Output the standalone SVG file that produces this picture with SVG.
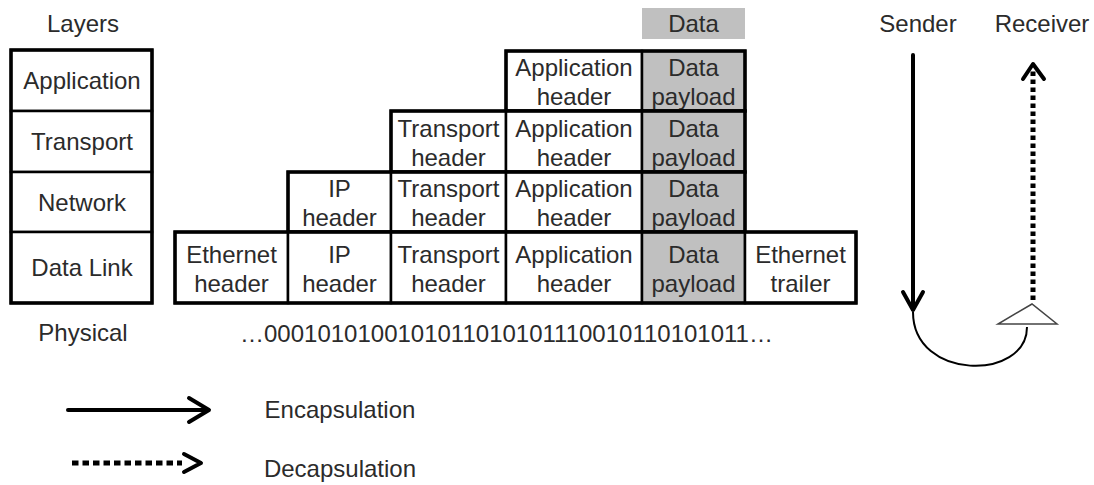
<svg xmlns="http://www.w3.org/2000/svg" width="1094" height="485" viewBox="0 0 1094 485">
<style>
text{font-family:"Liberation Sans",Arial,sans-serif;font-size:24px;fill:#2b2b2b;text-anchor:middle}
.c{fill:#fff;stroke:#000;stroke-width:2.5}
.g{fill:#c0c0c0;stroke:#000;stroke-width:2.5}
.o{fill:none;stroke:#000;stroke-width:3.5}
.s{fill:none;stroke:#000;stroke-width:4;stroke-linecap:round;stroke-linejoin:round}
.d{fill:none;stroke:#000;stroke-width:5}
</style>
<rect width="1094" height="485" fill="#fff"/>
<g id="layers">
<text x="83" y="32">Layers</text>
<rect class="c" x="11" y="50" width="141" height="61"/>
<rect class="c" x="11" y="111" width="141" height="61"/>
<rect class="c" x="11" y="172" width="141" height="60"/>
<rect class="c" x="11" y="232" width="141" height="71"/>
<rect class="o" x="11" y="50" width="141" height="253"/>
<text x="82" y="89">Application</text>
<text x="82" y="150">Transport</text>
<text x="82" y="211">Network</text>
<text x="82" y="276">Data Link</text>
<text x="83" y="341">Physical</text>
</g>
<g id="data">
<rect x="642" y="8" width="103" height="31" fill="#c0c0c0"/>
<text x="693.5" y="32">Data</text>
</g>
<g id="row-application">
<rect class="c" x="506" y="51" width="136" height="60"/>
<rect class="g" x="642" y="51" width="103" height="60"/>
<rect class="o" x="506" y="51" width="239" height="60"/>
<text x="574" y="76">Application</text><text x="574" y="105">header</text>
<text x="693.5" y="76">Data</text><text x="693.5" y="105">payload</text>
</g>
<g id="row-transport">
<rect class="c" x="391" y="111" width="115" height="61"/>
<rect class="c" x="506" y="111" width="136" height="61"/>
<rect class="g" x="642" y="111" width="103" height="61"/>
<rect class="o" x="391" y="111" width="354" height="61"/>
<text x="448.5" y="137">Transport</text><text x="448.5" y="166">header</text>
<text x="574" y="137">Application</text><text x="574" y="166">header</text>
<text x="693.5" y="137">Data</text><text x="693.5" y="166">payload</text>
</g>
<g id="row-network">
<rect class="c" x="288" y="172" width="103" height="60"/>
<rect class="c" x="391" y="172" width="115" height="60"/>
<rect class="c" x="506" y="172" width="136" height="60"/>
<rect class="g" x="642" y="172" width="103" height="60"/>
<rect class="o" x="288" y="172" width="457" height="60"/>
<text x="339.5" y="197">IP</text><text x="339.5" y="226">header</text>
<text x="448.5" y="197">Transport</text><text x="448.5" y="226">header</text>
<text x="574" y="197">Application</text><text x="574" y="226">header</text>
<text x="693.5" y="197">Data</text><text x="693.5" y="226">payload</text>
</g>
<g id="row-datalink">
<rect class="c" x="175" y="232" width="113" height="71"/>
<rect class="c" x="288" y="232" width="103" height="71"/>
<rect class="c" x="391" y="232" width="115" height="71"/>
<rect class="c" x="506" y="232" width="136" height="71"/>
<rect class="g" x="642" y="232" width="103" height="71"/>
<rect class="c" x="745" y="232" width="111" height="71"/>
<rect class="o" x="175" y="232" width="681" height="71"/>
<text x="231.5" y="263">Ethernet</text><text x="231.5" y="292">header</text>
<text x="339.5" y="263">IP</text><text x="339.5" y="292">header</text>
<text x="448.5" y="263">Transport</text><text x="448.5" y="292">header</text>
<text x="574" y="263">Application</text><text x="574" y="292">header</text>
<text x="693.5" y="263">Data</text><text x="693.5" y="292">payload</text>
<text x="800.5" y="263">Ethernet</text><text x="800.5" y="292">trailer</text>
</g>
<g id="physical">
<text x="240" y="342" style="text-anchor:start">…0001010100101011010101110010110101011…</text>
</g>
<g id="sender-receiver">
<text x="918" y="32">Sender</text>
<text x="1042" y="32">Receiver</text>
</g>
<g id="connectors">
<path class="s" d="M913,55 V309"/>
<path class="s" d="M903,292 L913,310 L923,292"/>
<path d="M913,312 C913,381 1027,381 1027,327" fill="none" stroke="#000" stroke-width="2"/>
<polygon points="1032,304 998,324 1057,324" fill="#fff" stroke="#444" stroke-width="1.5"/>
<path class="d" d="M1033,300 V68" stroke-dasharray="4.5 3.5"/>
<path class="s" d="M1023,79 L1033,64 L1044,79" stroke-width="5"/>
</g>
<g id="legend">
<path class="s" d="M68,410 H207" stroke-width="4.5"/>
<path class="s" d="M189,398 L209,410 L189,422" stroke-width="5"/>
<text x="340" y="418">Encapsulation</text>
<path class="d" d="M72,463 H182" stroke-dasharray="6.5 4" stroke-width="5.5"/>
<path class="s" d="M184,454 L201,463 L184,472" stroke-width="5"/>
<text x="340" y="477">Decapsulation</text>
</g>
</svg>
